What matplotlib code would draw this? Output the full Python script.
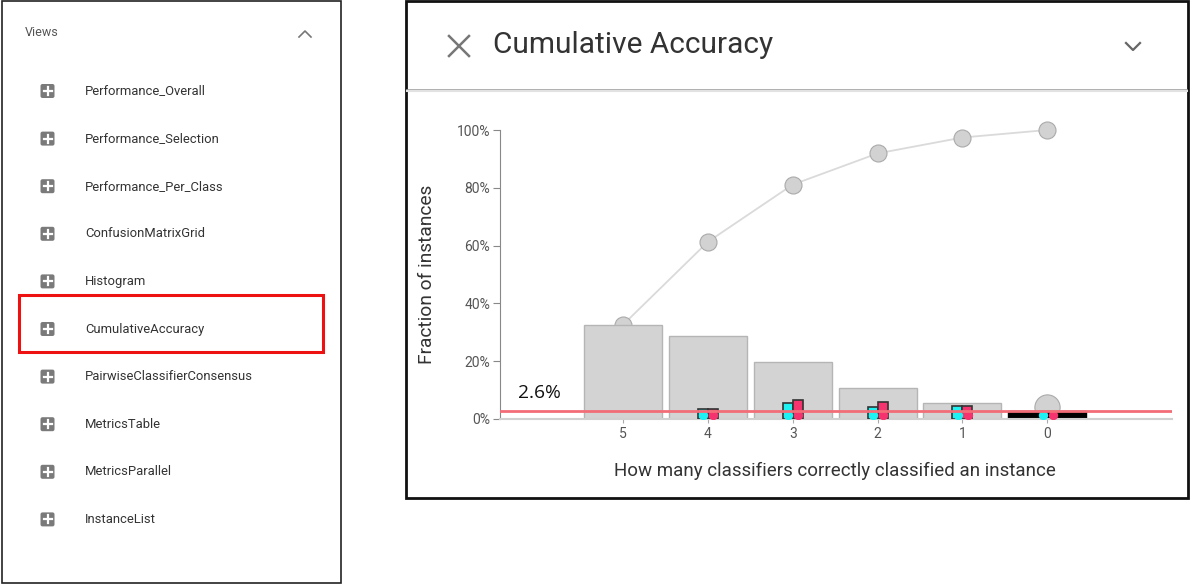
import matplotlib
matplotlib.use("Agg")
import matplotlib.pyplot as plt
import numpy as np
from matplotlib.patches import Rectangle, FancyBboxPatch

plt.rcParams['font.family'] = ['Roboto', 'DejaVu Sans']

# sidebar items
views = ["Performance_Overall", "Performance_Selection", "Performance_Per_Class",
         "ConfusionMatrixGrid", "Histogram", "CumulativeAccuracy",
         "PairwiseClassifierConsensus", "MetricsTable", "MetricsParallel", "InstanceList"]
selected_view = "CumulativeAccuracy"

# chart data (percent)
categories = ["5", "4", "3", "2", "1", "0"]
fraction = [32.6, 28.7, 19.8, 10.8, 5.5, 2.6]
cumulative = [32.6, 61.3, 81.1, 91.9, 97.4, 100.0]
cyan_vals = [np.nan, 3.5, 5.5, 4.2, 4.5, np.nan]
pink_vals = [np.nan, 3.5, 6.6, 5.9, 4.5, np.nan]
dot_level = [np.nan, 1.3, 1.3, 1.3, 1.3, 1.3]
extra_circle = 4.3
baseline_pct = 2.6

W, H = 1191, 584
fig = plt.figure(figsize=(W / 100, H / 100), dpi=100)

bg = fig.add_axes([0, 0, 1, 1])
bg.set_xlim(0, W)
bg.set_ylim(H, 0)
bg.axis("off")

# ---- left panel ----
bg.add_patch(Rectangle((1.5, 0.5), 339.5, 582, fill=False, ec="#222222", lw=1.2))
bg.text(25, 33, "Views", fontsize=9, color="#555555", va="center")
bg.plot([299, 305, 311], [37, 31, 37], color="#777777", lw=1.2)
for i, name in enumerate(views):
    y = 91 + i * 47.6
    bg.add_patch(FancyBboxPatch((40.5, y - 7), 14, 14, boxstyle="round,pad=0,rounding_size=2",
                                fc="#7a7a7a", ec="none"))
    bg.plot([43.5, 51.5], [y, y], color="white", lw=1.6)
    bg.plot([47.5, 47.5], [y - 4, y + 4], color="white", lw=1.6)
    bg.text(85, y, name, fontsize=9.4, color="#333333", va="center")
    if name == selected_view:
        bg.add_patch(Rectangle((19, y - 34), 304, 57, fill=False, ec="#ee1111", lw=2.2))

# ---- right panel ----
bg.add_patch(Rectangle((406, 1), 782, 497, fill=False, ec="#111111", lw=2))
bg.plot([449, 469], [36, 56], color="#777777", lw=1.8)
bg.plot([449, 469], [56, 36], color="#777777", lw=1.8)
bg.text(493, 45, "Cumulative Accuracy", fontsize=21.5, color="#333333", va="center")
bg.plot([1126, 1133, 1140], [43, 50, 43], color="#666666", lw=1.6)
bg.plot([407, 1187], [89.5, 89.5], color="#a0a0a0", lw=1.2)
bg.plot([407, 1187], [91, 91], color="#e2e2e2", lw=1.5)

# ---- chart ----
x0, x1, y_top, y_base = 500, 1172, 130, 419
ax = fig.add_axes([x0 / W, (H - y_base) / H, (x1 - x0) / W, (y_base - y_top) / H])
ax.patch.set_alpha(0)
xs = np.arange(len(categories))
ax.set_xlim(-1.45, 6.47)
ax.set_ylim(0, 100)

ax.plot(xs, cumulative, color="#dadada", lw=1.3, zorder=1, clip_on=False)
ax.scatter(xs, cumulative, s=150, fc="#d2d2d2", ec="#aaaaaa", lw=0.8, zorder=1.5, clip_on=False)
ax.scatter([xs[-1]], [extra_circle], s=330, fc="#d2d2d2", ec="#aaaaaa", lw=0.8, zorder=1.5)

bar_colors = ["#d3d3d3"] * (len(categories) - 1) + ["#000000"]
bar_edges = ["#b5b5b5"] * (len(categories) - 1) + ["#000000"]
ax.bar(xs, fraction, width=0.92, color=bar_colors, edgecolor=bar_edges, lw=1, zorder=2)

bw = 0.118
ax.bar(xs - bw / 2, cyan_vals, width=bw, color="#1ff2f2", edgecolor="#333333", lw=1.2, zorder=3)
ax.bar(xs + bw / 2, pink_vals, width=bw, color="#f5336f", edgecolor="#333333", lw=1.2, zorder=3)
ax.scatter(xs - 0.055, dot_level, s=45, color="#1ff2f2", zorder=4, lw=0)
ax.scatter(xs + 0.065, dot_level, s=45, color="#f5336f", zorder=4, lw=0)

ax.axhline(baseline_pct, color="#f26d78", lw=2, zorder=5)
ax.text(-1.24, baseline_pct + 3.2, f"{baseline_pct}%", fontsize=13.8, color="#111111",
        family=["Open Sans", "DejaVu Sans"], va="bottom")

for s in ["top", "right"]:
    ax.spines[s].set_visible(False)
ax.spines["left"].set_color("#888888")
ax.spines["bottom"].set_color("#d0d0d0")
ax.spines["bottom"].set_linewidth(1.5)
ax.set_yticks([0, 20, 40, 60, 80, 100])
ax.set_yticklabels(["0%", "20%", "40%", "60%", "80%", "100%"])
ax.set_xticks(xs)
ax.set_xticklabels(categories)
ax.tick_params(axis="y", colors="#888888", labelcolor="#555555", labelsize=10, length=5, pad=2)
ax.tick_params(axis="x", colors="#aaaaaa", labelcolor="#555555", labelsize=10, length=3, pad=3)
ax.set_ylabel("Fraction of instances", fontsize=13.8, color="#333333")
ax.yaxis.set_label_coords(-(x0 - 436) / (x1 - x0), 0.5)
ax.set_xlabel("How many classifiers correctly classified an instance", fontsize=13.5,
              color="#333333")
ax.xaxis.set_label_coords((835 - x0) / (x1 - x0), -(462 - y_base) / (y_base - y_top))

fig.savefig("out.png", dpi=100)
